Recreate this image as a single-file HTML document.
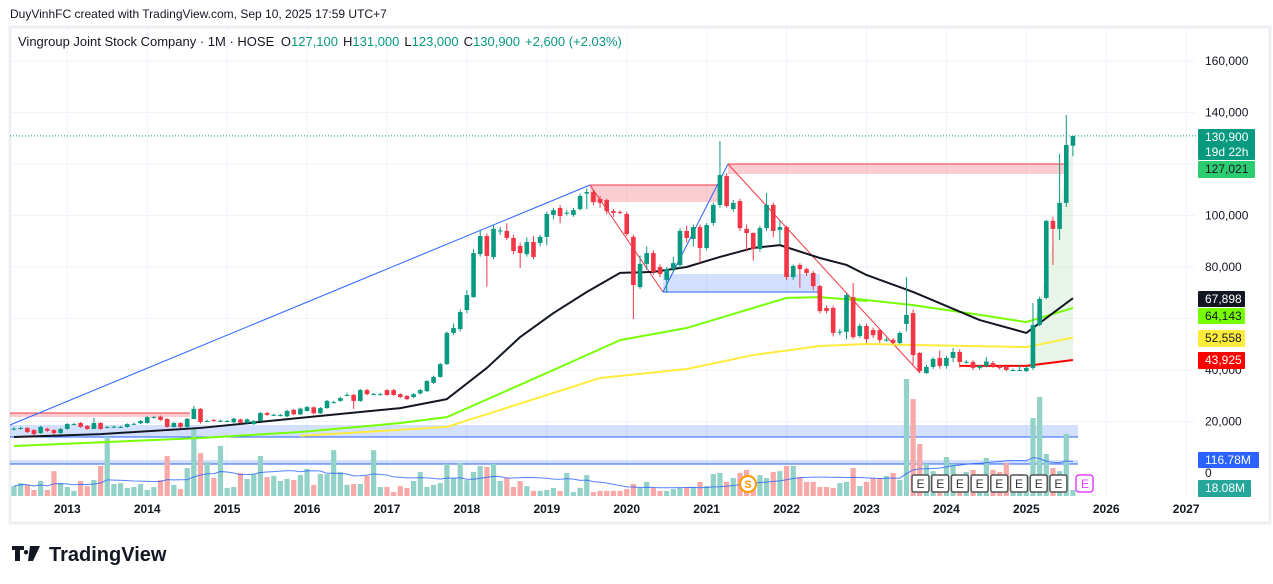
<!DOCTYPE html>
<html><head><meta charset="utf-8">
<style>
body{margin:0;background:#fff;width:1273px;height:584px;overflow:hidden;font-family:"Liberation Sans",sans-serif;}
svg{display:block}
</style></head>
<body>
<svg id="chart" width="1273" height="584" viewBox="0 0 1273 584" xmlns="http://www.w3.org/2000/svg" font-family="Liberation Sans, sans-serif">
  <text x="10" y="18" font-size="12" fill="#131722">DuyVinhFC created with TradingView.com, Sep 10, 2025 17:59 UTC+7</text>
  <rect x="10" y="27" width="1260" height="496" fill="#fff" stroke="#eeeff2" stroke-width="3"/>
  <g id="grid"></g>
  <g id="drawings"></g>
  <g id="volume"></g>
  <g id="mas"></g>
  <g id="candles"></g>
  <g id="events"></g>
  <g id="axis"></g>
  <text x="18" y="46" font-size="13" fill="#131722">Vingroup Joint Stock Company · 1M · HOSE <tspan dx="3">O</tspan><tspan fill="#089981">127,100</tspan><tspan dx="5">H</tspan><tspan fill="#089981">131,000</tspan><tspan dx="5">L</tspan><tspan fill="#089981">123,000</tspan><tspan dx="5">C</tspan><tspan fill="#089981">130,900</tspan><tspan dx="5" fill="#089981">+2,600 (+2.03%)</tspan></text>
  <g>
    <path d="M12 546h12v4h-4v11h-5v-11h-3z M26 550a2.2 2.2 0 1 0 0.01 0z M30 546h10l-7 15h-5z" fill="#131722"/>
    <text x="49" y="561" font-size="20" font-weight="bold" fill="#131722">TradingView</text>
  </g>
</svg>
<script>
// ---- data (prices in thousands, monthly from May 2012) ----
const opens=[17.0,17.3,17.5,16.7,15.5,17.2,16.7,15.5,17.1,18.9,19.4,18.3,17.1,19.4,17.8,17.9,17.9,17.9,19.0,19.3,19.4,21.6,21.9,21.0,17.9,19.4,17.9,21.0,24.9,20.1,20.6,20.2,20.2,19.7,20.8,19.5,19.0,20.2,23.3,22.5,22.5,22.0,24.5,22.8,24.1,25.5,23.2,25.2,27.4,28.0,30.2,30.3,28.0,32.2,30.6,30.6,32.2,32.2,30.6,29.9,29.5,30.9,31.8,35.0,37.3,42.3,54.4,55.9,63.3,68.3,85.0,92.0,83.9,94.0,94.0,91.3,88.2,85.0,89.7,89.3,91.7,100.2,102.9,101.0,100.2,102.5,108.5,109.1,106.4,106.0,101.7,101.4,100.6,91.7,72.2,81.2,85.4,80.0,75.0,79.2,80.8,94.0,90.9,95.5,87.4,97.1,104.1,115.3,102.5,105.6,94.8,93.2,87.0,95.1,104.1,94.4,95.5,76.1,80.8,79.2,77.7,72.6,64.1,64.1,54.8,54.8,68.3,53.2,57.1,55.5,55.5,51.7,51.7,50.5,57.9,62.1,46.6,38.8,41.2,44.7,41.6,44.7,47.0,43.1,43.1,40.8,41.6,42.7,41.5,41.5,39.9,39.9,39.6,40.8,57.5,68.0,97.9,94.8,104.9,127.1];
const closes=[17.2,17.5,15.9,15.1,17.9,16.4,15.5,17.1,19.0,19.0,17.9,17.1,19.4,17.1,17.9,18.0,17.9,19.0,19.1,20.2,21.7,21.7,20.6,17.9,19.4,17.9,21.0,24.9,19.8,20.2,20.2,20.3,20.2,21.1,19.5,20.8,20.2,23.3,22.6,22.6,22.5,24.1,22.8,25.0,25.6,23.2,25.2,28.0,27.5,29.1,30.3,28.0,32.2,30.6,30.7,30.6,30.3,30.3,29.5,28.7,30.6,32.2,35.7,37.3,42.3,54.4,56.3,62.5,69.1,85.4,92.0,84.3,94.8,94.2,91.3,86.2,85.4,89.7,83.9,91.7,100.6,102.1,99.8,101.1,102.1,107.6,109.1,105.2,104.9,101.7,101.0,101.3,92.8,73.0,81.2,85.4,78.1,77.3,79.2,81.5,94.0,91.3,95.5,87.4,96.3,104.1,115.7,103.7,104.9,95.1,93.2,87.0,95.1,104.1,94.0,95.5,76.1,80.4,79.2,77.7,72.6,62.9,62.9,54.4,54.9,69.1,52.8,57.1,52.0,53.5,51.7,51.8,50.5,54.4,61.4,45.8,39.6,41.2,44.3,41.6,44.7,47.0,43.1,43.2,40.8,41.6,43.3,41.5,40.8,40.0,40.0,40.0,40.8,57.5,67.6,97.9,94.8,104.9,127.4,130.9];
const highs=[17.8,18.0,17.8,17.0,18.3,17.6,17.0,17.5,19.4,19.5,19.8,18.6,21.4,19.8,18.3,18.4,18.3,19.3,19.5,20.6,22.0,22.2,22.3,21.3,19.8,19.7,21.4,26.0,25.2,20.7,21.0,20.7,20.6,21.5,21.1,21.2,20.6,23.7,23.8,23.0,23.0,24.5,24.9,25.4,26.1,25.9,25.6,28.4,28.0,29.6,31.2,30.8,32.6,32.7,31.1,31.1,32.6,32.6,31.0,30.3,31.0,32.6,36.1,37.8,42.8,55.0,58.0,63.5,71.0,87.0,94.5,93.0,96.5,95.5,97.0,92.5,89.5,91.5,92.0,92.5,101.5,103.0,104.0,102.0,103.0,108.5,110.5,110.0,107.5,106.5,102.5,102.0,101.5,92.5,84.5,88.0,86.5,81.0,80.0,84.0,95.0,96.0,96.5,96.5,97.0,105.0,128.9,116.5,106.0,106.5,96.5,93.5,96.0,108.7,105.0,98.0,96.0,81.0,81.5,79.8,78.5,73.0,65.0,65.0,56.0,70.0,73.8,58.0,58.0,56.5,56.0,52.5,52.5,55.0,76.1,63.5,47.0,42.0,45.0,47.6,45.5,48.5,48.0,43.8,43.8,42.0,45.0,43.5,42.0,42.0,40.6,42.0,41.5,66.0,68.5,98.3,99.5,123.9,139.0,131.0];
const lows=[16.6,16.8,15.5,14.6,15.2,16.0,15.0,15.2,16.9,18.6,17.6,16.8,17.0,16.8,17.4,17.5,17.5,17.6,18.7,19.0,19.2,21.2,20.3,17.6,17.6,17.5,17.6,20.8,19.2,19.7,19.9,19.8,19.8,19.4,19.2,19.2,18.7,20.0,22.2,22.1,22.0,21.7,22.4,22.5,23.8,22.8,22.9,25.0,27.0,27.7,29.8,24.9,27.6,30.2,30.2,30.2,29.9,29.9,29.1,28.3,29.1,30.5,31.4,34.6,37.0,42.0,53.5,55.0,62.0,68.0,84.0,72.4,83.0,92.5,90.5,85.0,79.6,84.0,83.0,88.0,88.5,98.5,97.0,100.0,99.5,102.0,102.5,104.0,103.0,100.5,99.5,100.5,92.0,59.8,71.5,79.0,77.0,76.0,70.0,78.0,79.5,89.5,88.0,81.6,86.5,96.0,103.0,103.0,101.5,94.0,86.0,82.5,86.0,94.0,91.6,89.0,75.0,75.0,72.0,76.5,71.0,62.0,62.0,53.0,53.5,52.0,52.0,52.5,50.5,52.5,50.5,51.0,50.0,50.0,55.0,42.0,38.8,38.5,40.5,40.5,40.5,43.0,41.0,42.5,40.0,40.0,41.0,40.8,40.2,39.5,39.5,39.5,39.2,40.0,57.0,67.5,80.8,90.5,103.3,123.0];
const volumes=[33,43,37,20,50,20,83,43,30,17,50,33,53,100,197,40,43,27,30,40,20,30,53,133,37,23,93,227,143,113,60,167,27,30,77,57,73,133,63,67,50,57,53,70,90,37,73,73,153,80,37,40,40,67,153,30,30,13,33,27,50,80,30,37,43,107,60,110,53,80,100,97,107,50,60,30,50,33,17,17,20,27,17,77,13,27,70,13,17,17,17,17,23,40,27,47,27,17,17,23,27,30,30,47,33,73,77,47,60,77,87,47,70,60,80,83,100,100,63,47,47,30,30,27,43,47,93,33,47,60,60,67,77,53,390,323,173,107,83,70,130,107,70,80,87,70,127,87,80,110,67,73,67,260,330,140,93,83,207,20];
// moving averages: [monthIndex, value]
const maBlackIdx=[0,13,28,43,58,65,71,76,81,86,91,96,101,106,111,115,121,125,128,135,145,152,159];
const maBlackVal=[14.0,15.1,17.5,21.4,25.2,28.7,40.8,52.8,62.1,70.3,77.7,78.1,80.0,83.9,87.4,88.5,83.5,80.8,76.9,70.3,59.4,54.4,67.9];
const maGreenIdx=[0,28,43,58,65,81,91,101,111,116,121,128,125,135,145,152,159];
const maGreenVal=[10.5,13.6,15.9,19.4,21.7,40.0,51.6,56.3,64.1,68.0,68.3,66.8,68.0,65.2,61.4,58.6,64.1];
const maYellowIdx=[43,65,73,88,101,111,121,128,135,152,159];
const maYellowVal=[14.4,17.9,24.5,36.9,40.4,45.8,49.3,50.1,49.7,48.9,52.6];
const maRedIdx=[142,152,159];
const maRedVal=[41.6,41.6,43.9];
const priceTicks=[160,140,120,100,80,60,40,20,0];
const yearLabels=[2013,2014,2015,2016,2017,2018,2019,2020,2021,2022,2023,2024,2025,2026,2027];

// ---- axis functions ----
const X0=14, DX=6.66;
function xOf(i){return X0+i*DX;}
function yOf(p){return 473-p*2.575;}
function yVol(v){return 496-v*0.3;}
function xYear(y){return xOf((y-2012)*12-4);}

const NS="http://www.w3.org/2000/svg";
function mk(tag,attrs,parent){const e=document.createElementNS(NS,tag);for(const k in attrs)e.setAttribute(k,attrs[k]);parent.appendChild(e);return e;}
const grid=document.getElementById('grid'),dr=document.getElementById('drawings'),vol=document.getElementById('volume'),
mas=document.getElementById('mas'),cg=document.getElementById('candles'),ev=document.getElementById('events'),ax=document.getElementById('axis'),svg=document.getElementById('chart');

// grid + labels
priceTicks.forEach(p=>{
  const y=yOf(p);
  if(p>0){const l=mk('line',{x1:11,x2:1195,y1:y,y2:y,stroke:'#f0f3fa','stroke-width':1},grid);
  
  }
  if(p===120||p===60)return;
  const t=mk('text',{x:1205,y:y+4,'font-size':12,fill:'#131722'},ax);
  t.textContent=p===0?'0':(p*1000).toLocaleString('en-US');
  
  
});
yearLabels.forEach(yr=>{
  const x=xYear(yr);
  const l=mk('line',{x1:x,x2:x,y1:28,y2:497,stroke:'#f0f3fa','stroke-width':1},grid);
  
  
  const t=mk('text',{x:x,y:513,'font-size':12,'font-weight':'bold',fill:'#131722','text-anchor':'middle'},ax);
  t.textContent=yr;
  
  
});

// drawings
function rect(x,y,w,h,fill,name){const r=mk('rect',{x:x,y:y,width:w,height:h,fill:fill},dr);return r;}
function line(x1,y1,x2,y2,c,name,w){const l=mk('line',{x1:x1,y1:y1,x2:x2,y2:y2,stroke:c,'stroke-width':w||1},dr);return l;}
rect(10,413,180,4,'rgba(242,54,69,0.25)','resistance-zone-2013');
line(10,413,190,413,'#f23645','resistance-line-2013');
rect(590,185,130,17,'rgba(242,54,69,0.25)','supply-zone-2019');
line(590,185,720,185,'#f23645','supply-line-2019');
rect(728,164,337,10,'rgba(242,54,69,0.25)','supply-zone-2021');
line(728,164,1065,164,'#f23645','supply-line-2021');
rect(663,274,157,18,'rgba(41,98,255,0.2)','demand-zone-2020');
line(663,292,820,292,'#2962ff','demand-line-2020');
rect(10,425,1068,12,'rgba(41,98,255,0.2)','support-zone-low');
line(10,437,1078,437,'#2962ff','support-line-low');
rect(10,460,1068,4,'rgba(41,98,255,0.2)','support-zone-bottom');
line(10,464,1078,464,'#2962ff','support-line-bottom');
line(10,425,590,185,'#2962ff','trendline-2012-2019');
line(590,185,663,292,'#f23645','zigzag-down-2020');
line(663,292,728,164,'#2962ff','zigzag-up-2021');
line(728,164,920,373,'#f23645','zigzag-down-2023');
const area=mk('polygon',{points:'1027,368 1033,330 1040,300 1047,268 1053,240 1060,205 1066,170 1072,150 1073,150 1073,361',fill:'rgba(76,175,80,0.13)'},dr);


const pl=mk('line',{x1:10,x2:1197,y1:yOf(closes[closes.length-1]),y2:yOf(closes[closes.length-1]),stroke:'#089981','stroke-width':1,'stroke-dasharray':'1 2'},dr);



// volume bars
volumes.forEach((v,i)=>{
  const up=closes[i]>=opens[i];
  const r=mk('rect',{x:xOf(i)-2.6,y:yVol(v),width:5.2,height:496-yVol(v),fill:up?'#92d2c8':'#f7a9a8'},vol);
  
  
});
let vpts=[];
volumes.forEach((v,i)=>{const s=volumes.slice(Math.max(0,i-19),i+1);const m=s.reduce((a,b)=>a+b,0)/s.length;vpts.push(xOf(i)+','+yVol(m));});
const vma=mk('polyline',{points:vpts.join(' '),fill:'none',stroke:'#2962ff','stroke-width':1,opacity:0.8},vol);



// moving averages
function maLine(idx,val,color,name,w){
  const pts=idx.map((i,k)=>xOf(i)+','+yOf(val[k])).join(' ');
  const p=mk('polyline',{points:pts,fill:'none',stroke:color,'stroke-width':w,'stroke-linejoin':'round'},mas);
  
  
}
maLine(maYellowIdx,maYellowVal,'#ffeb3b','ma-yellow',2);
maLine(maGreenIdx,maGreenVal,'#76ff03','ma-green',2);
maLine(maBlackIdx,maBlackVal,'#131722','ma-black',2);
maLine(maRedIdx,maRedVal,'#ff0000','ma-red',2);

// candles
opens.forEach((o,i)=>{
  const c=closes[i],up=c>=o,col=up?'#089981':'#f23645',x=xOf(i);
  const w=mk('line',{x1:x,x2:x,y1:yOf(highs[i]),y2:yOf(lows[i]),stroke:col,'stroke-width':1},cg);
  
  
  const top=yOf(Math.max(o,c)),h=Math.max(1,yOf(Math.min(o,c))-top);
  const b=mk('rect',{x:x-2.3,y:top,width:4.6,height:h,fill:col},cg);
  
  
});

// events
for(let k=0;k<8;k++){
  const x=912+k*19.7;
  const g=mk('g',{},ev);
  
  
  mk('rect',{x:x,y:475,width:17,height:17,rx:2,fill:'#fff',stroke:'#555','stroke-width':1.5},g);
  const t=mk('text',{x:x+8.5,y:488,'font-size':12,fill:'#333','text-anchor':'middle'},g);t.textContent='E';
}
const ge=mk('g',{},ev);


mk('rect',{x:1076,y:475,width:17,height:17,rx:3,fill:'#fff',stroke:'#e040fb','stroke-width':1.5},ge);
const te=mk('text',{x:1085,y:488,'font-size':12,fill:'#e040fb','text-anchor':'middle'},ge);te.textContent='E';
const gs=mk('g',{},ev);


mk('circle',{cx:748,cy:484,r:8,fill:'#fff',stroke:'#ff9800','stroke-width':2},gs);
const ts=mk('text',{x:748,y:488,'font-size':11,fill:'#ff9800','text-anchor':'middle','font-weight':'bold'},gs);ts.textContent='S';

// price-axis tags
function tag(y,h,bg,fg,lines,name,w){
  const g=mk('g',{},ax);
  
  
  mk('rect',{x:1198,y:y,width:w||57,height:h,rx:1,fill:bg},g);
  lines.forEach((s,k)=>{const t=mk('text',{x:1205,y:y+12+k*15,'font-size':12,fill:fg},g);t.textContent=s;});
}
tag(129,31,'#089981','#fff',['130,900','19d 22h'],'last-price-tag');
tag(161,17,'#2ecc71','#131722',['127,021'],'level-tag-127021');
tag(291,16,'#131722','#fff',['67,898'],'ma-black-tag',47);
tag(308,16,'#76ff03','#131722',['64,143'],'ma-green-tag',47);
tag(330,17,'#ffeb3b','#131722',['52,558'],'ma-yellow-tag',47);
tag(352,17,'#ff0000','#fff',['43,925'],'ma-red-tag',47);
tag(452,16,'#2962ff','#fff',['116.78M'],'volume-ma-tag',61);
tag(480,17,'#26a69a','#fff',['18.08M'],'volume-tag',53);
</script>
</body></html>
